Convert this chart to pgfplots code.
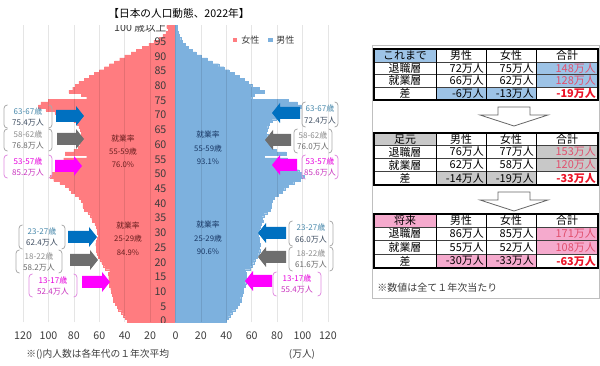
\documentclass[border=0pt]{standalone}
\usepackage{fontspec}
\setmainfont{Noto Sans CJK JP}
\usepackage{pgfplots}
\pgfplotsset{compat=1.18}
\usepackage{pgfplotstable}

\definecolor{fem}{RGB}{255,124,128}
\definecolor{mal}{RGB}{125,177,222}
\definecolor{arrblue}{RGB}{0,112,192}
\definecolor{arrgray}{RGB}{110,110,110}
\definecolor{arrmag}{RGB}{255,0,255}
\definecolor{tblue}{RGB}{157,195,230}
\definecolor{tgray}{RGB}{200,200,200}
\definecolor{tpink}{RGB}{245,170,205}
\definecolor{tred}{RGB}{225,80,110}
\definecolor{bred}{RGB}{235,20,40}
\definecolor{txt}{RGB}{60,60,60}
\definecolor{lbA}{RGB}{70,135,170}
\definecolor{lbB}{RGB}{60,75,95}
\definecolor{lgA}{RGB}{140,140,140}
\definecolor{lgB}{RGB}{105,105,105}
\definecolor{lmA}{RGB}{230,0,220}
\definecolor{lmB}{RGB}{200,50,190}
\definecolor{brg}{RGB}{170,170,170}
\definecolor{brm}{RGB}{225,140,225}
\definecolor{fdark}{RGB}{105,30,30}
\definecolor{mdark}{RGB}{25,55,100}

\pgfplotstableread{
age f m
0 38.0 40.0
1 39.5 41.5
2 41.0 43.0
3 42.5 44.5
4 45.0 47.0
5 46.0 48.5
6 47.5 50.0
7 49.0 51.5
8 48.8 51.3
9 50.0 52.5
10 50.5 53.0
11 51.0 53.5
12 52.0 54.7
13 52.2 55.2
14 52.6 55.6
15 52.6 55.7
16 52.8 55.8
17 51.8 54.7
18 55.5 59.0
19 57.0 60.5
20 58.2 61.5
21 59.5 62.8
22 60.8 64.2
23 62.0 65.5
24 62.5 66.2
25 62.3 66.0
26 62.8 66.4
27 62.4 65.9
28 62.0 66.0
29 61.0 65.0
30 61.5 65.5
31 62.0 66.0
32 62.5 66.5
33 63.5 67.5
34 65.5 69.0
35 66.0 68.0
36 67.0 69.5
37 69.0 72.0
38 72.0 74.5
39 73.0 75.5
40 73.0 75.0
41 74.0 76.0
42 76.0 78.0
43 79.0 81.0
44 82.0 84.0
45 84.0 86.0
46 87.0 89.0
47 91.0 93.0
48 96.0 98.0
49 99.0 101.0
50 97.0 99.0
51 95.0 97.0
52 92.0 94.0
53 90.0 91.0
54 91.0 92.0
55 88.0 88.0
56 70.0 70.0
57 87.0 87.0
58 80.0 79.0
59 76.5 75.5
60 75.5 75.0
61 76.5 75.5
62 75.5 75.0
63 74.5 72.5
64 74.0 71.5
65 75.0 72.0
66 76.0 72.5
67 77.5 73.5
68 80.0 76.0
69 84.0 79.0
70 89.0 84.0
71 95.0 89.0
72 102.0 94.0
73 108.0 99.0
74 106.0 96.0
75 100.0 89.0
76 70.0 60.0
77 74.0 62.0
78 84.0 70.0
79 81.0 66.0
80 79.0 60.0
81 76.0 57.0
82 72.0 54.0
83 68.0 50.0
84 64.0 46.0
85 60.0 42.0
86 56.0 38.0
87 52.0 34.0
88 48.0 29.0
89 44.0 25.0
90 40.0 20.0
91 35.0 16.0
92 31.0 13.0
93 26.0 10.0
94 21.0 7.5
95 17.0 5.5
96 13.0 4.0
97 10.0 3.0
98 7.5 2.2
99 5.5 1.5
100 7.0 1.5
}\popdata

\tikzset{
  tb/.style={font=\fontsize{8.2}{9}\selectfont, inner sep=0pt, text=black},
  lab/.style={font=\fontsize{6}{7}\selectfont, inner sep=0pt},
  emp/.style={font=\fontsize{5.8}{7}\selectfont, inner sep=0pt},
}

% right-pointing block arrow: tail x, tip x, center y, colour
\newcommand{\rarr}[4]{\fill[#4] (#1,{#3-6})--({#2-8},{#3-6})--({#2-8},{#3-10})--(#2,#3)--({#2-8},{#3+10})--({#2-8},{#3+6})--(#1,{#3+6})--cycle;}
% left-pointing block arrow: tip x, tail x, center y, colour
\newcommand{\larr}[4]{\fill[#4] (#2,{#3-6})--({#1+8},{#3-6})--({#1+8},{#3-10})--(#1,#3)--({#1+8},{#3+10})--({#1+8},{#3+6})--(#2,{#3+6})--cycle;}
% bracket label
\newcommand{\blab}[9]{%
  \draw[#5, line width=0.6pt, rounded corners=2.5pt] ({#1+3.5},#3)--(#1,#3)--(#1,#4)--({#1+3.5},#4);
  \draw[#5, line width=0.6pt, rounded corners=2.5pt] ({#2-3.5},#3)--(#2,#3)--(#2,#4)--({#2-3.5},#4);
  \node[lab, text=#6] at ({(#1+#2)/2},{#3+0.27*(#4-#3)}) {#7};
  \node[lab, text=#8] at ({(#1+#2)/2},{#3+0.75*(#4-#3)}) {#9};
}
% table frame: y0..y4, colour, header
\newcommand{\tbl}[7]{%
  \fill[#6] (374,#1) rectangle (436,#2);
  \fill[#6] (536,#2) rectangle (598,#4);
  \fill[#6] (436,#4) rectangle (536,#5);
  \draw[line width=0.4pt, black!75] (374,#2)--(598,#2) (374,#3)--(598,#3) (374,#4)--(598,#4);
  \draw[line width=0.7pt] (436,#1)--(436,#5) (486,#1)--(486,#5) (536,#1)--(536,#5);
  \draw[line width=0.9pt] (374,#1) rectangle (598,#5);
  \node[tb] at (405,{(#1+#2)/2}) {#7};
  \node[tb] at (461,{(#1+#2)/2}) {男性};
  \node[tb] at (511,{(#1+#2)/2}) {女性};
  \node[tb] at (567,{(#1+#2)/2}) {合計};
  \node[tb] at (405,{(#2+#3)/2}) {退職層};
  \node[tb] at (405,{(#3+#4)/2}) {就業層};
  \node[tb] at (405,{(#4+#5)/2}) {差};
}
\newcommand{\trow}[5]{%
  \node[tb, anchor=east] at (484,#1) {#2};
  \node[tb, anchor=east] at (534,#1) {#3};
  \node[tb, anchor=east, #5] at (596,#1) {#4};
}
\newcommand{\harrow}[1]{\draw[fill=white, draw=black!60, line width=0.6pt] (498,#1)--(530,#1)--(530,{#1+8})--(548,{#1+8})--(514,{#1+19})--(480,{#1+8})--(498,{#1+8})--cycle;}

\begin{document}
\begin{tikzpicture}
\path[use as bounding box] (0,0) rectangle (450pt,-274.5pt);
\begin{axis}[
  at={(17.325pt,-241.875pt)}, anchor=south west,
  scale only axis, width=228.6pt, height=222.75pt,
  xmin=-120, xmax=120, ymin=-0.5, ymax=100.5,
  axis line style={draw=none},
  hide y axis,
  xtick={-120,-100,...,120},
  xmajorgrids,
  grid style={black, opacity=0.1, line width=0.6pt},
  major tick length=0pt,
  /pgf/number format/assume math mode=true,
  xticklabel={\pgfmathparse{abs(\tick)}\pgfmathprintnumber[fixed,precision=0]{\pgfmathresult}},
  xticklabel style={font=\fontsize{8}{9}\selectfont, text=txt, anchor=base, yshift=-13.1pt},
  axis on top,
]
\addplot[xbar, bar width=1, bar shift=0pt, fill=fem, draw=fem, line width=0.1pt]
  table[x expr=-\thisrow{f}, y=age] {\popdata};
\addplot[xbar, bar width=1, bar shift=0pt, fill=mal, draw=mal, line width=0.1pt]
  table[x=m, y=age] {\popdata};
\pgfplotsinvokeforeach{0,5,...,95}{
  \node[anchor=east, inner sep=0pt, font=\fontsize{8}{9}\selectfont, text=txt] at (axis cs:-7,#1) {#1};
}
\node[anchor=east, inner sep=0pt, font=\fontsize{8}{9}\selectfont, text=txt] at (axis cs:-7,100) {100 歳以上};
\end{axis}

\begin{scope}[x=0.75pt,y=-0.75pt]
% title & legend
\node[font=\fontsize{8}{9.6}\selectfont] at (179,13) {【日本の人口動態、2022年】};
\fill[fem] (232.7,37.7) rectangle (236.9,41.9);
\node[font=\fontsize{6.8}{8}\selectfont, anchor=west, inner sep=0pt, text=txt] at (241,40) {女性};
\fill[mal] (268.3,37.7) rectangle (272.5,41.9);
\node[font=\fontsize{6.8}{8}\selectfont, anchor=west, inner sep=0pt, text=txt] at (276,40) {男性};

% employment-rate notes
\node[emp, text=fdark] at (123,139) {就業率};
\node[emp, text=fdark] at (123,152) {55-59歳};
\node[emp, text=fdark] at (123,165) {76.0\%};
\node[emp, text=mdark] at (208,135) {就業率};
\node[emp, text=mdark] at (208,149) {55-59歳};
\node[emp, text=mdark] at (208,162) {93.1\%};
\node[emp, text=fdark] at (128,226) {就業率};
\node[emp, text=fdark] at (128,239) {25-29歳};
\node[emp, text=fdark] at (128,253) {84.9\%};
\node[emp, text=mdark] at (208,225) {就業率};
\node[emp, text=mdark] at (208,239) {25-29歳};
\node[emp, text=mdark] at (208,252) {90.6\%};

% block arrows
\rarr{56}{84}{116}{arrblue}
\rarr{57}{84}{139}{arrgray}
\rarr{55}{82}{166}{arrmag}
\rarr{68}{97}{237}{arrblue}
\rarr{70}{98}{260}{arrgray}
\rarr{82}{110}{282}{arrmag}
\larr{272}{300}{113}{arrblue}
\larr{265}{291}{140}{arrgray}
\larr{272}{297}{165}{arrmag}
\larr{258}{286}{233}{arrblue}
\larr{258}{286}{257}{arrgray}
\larr{245}{272}{281}{arrmag}

% bracket labels
\blab{4}{52}{105}{128}{brg}{lbA}{63-67歳}{lbB}{75.4万人}
\blab{4}{52}{129}{151}{brg}{lgA}{58-62歳}{lgB}{76.8万人}
\blab{4}{52}{155}{178}{brm}{lmA}{53-57歳}{lmB}{85.2万人}
\blab{19}{65}{225}{249}{brg}{lbA}{23-27歳}{lbB}{62.4万人}
\blab{16}{62}{250}{273}{brg}{lgA}{18-22歳}{lgB}{58.2万人}
\blab{29}{77}{274}{297}{brm}{lmA}{13-17歳}{lmB}{52.4万人}
\blab{302}{338}{102}{127}{brg}{lbA}{63-67歳}{lbB}{72.4万人}
\blab{294}{332}{129}{153}{brg}{lgA}{58-62歳}{lgB}{76.0万人}
\blab{302}{338}{155}{179}{brm}{lmA}{53-57歳}{lmB}{85.6万人}
\blab{289}{333}{221}{246}{brg}{lbA}{23-27歳}{lbB}{66.0万人}
\blab{289}{333}{247}{271}{brg}{lgA}{18-22歳}{lgB}{61.6万人}
\blab{273}{321}{272}{296}{brm}{lmA}{13-17歳}{lmB}{55.4万人}

% bottom notes
\node[font=\fontsize{7.3}{8.5}\selectfont, anchor=west, inner sep=0pt, text=txt] at (26,354) {※()内人数は各年代の１年次平均};
\node[font=\fontsize{7.3}{8.5}\selectfont, inner sep=0pt, text=txt] at (302,354) {(万人)};

% tables
\draw[black!25, line width=0.5pt] (372.5,45) rectangle (599.5,298);
\tbl{49}{62}{74.5}{87}{100}{tblue}{これまで}
\trow{68.25}{72万人}{75万人}{148万人}{text=tred}
\trow{80.75}{66万人}{62万人}{128万人}{text=tred}
\trow{93.5}{-6万人}{-13万人}{\bfseries -19万人}{text=bred}
\harrow{107}
\tbl{133}{145.5}{158.5}{171.5}{185}{tgray}{足元}
\trow{152}{76万人}{77万人}{153万人}{text=tred}
\trow{165}{62万人}{58万人}{120万人}{text=tred}
\trow{178.25}{-14万人}{-19万人}{\bfseries -33万人}{text=bred}
\harrow{192}
\tbl{214}{227}{240.5}{254}{268}{tpink}{将来}
\trow{233.75}{86万人}{85万人}{171万人}{text=tred}
\trow{247.25}{55万人}{52万人}{108万人}{text=tred}
\trow{261}{-30万人}{-33万人}{\bfseries -63万人}{text=bred}
\node[font=\fontsize{7.5}{9}\selectfont, anchor=west, inner sep=0pt, text=txt] at (377,288) {※数値は全て１年次当たり};
\end{scope}
\end{tikzpicture}
\end{document}
